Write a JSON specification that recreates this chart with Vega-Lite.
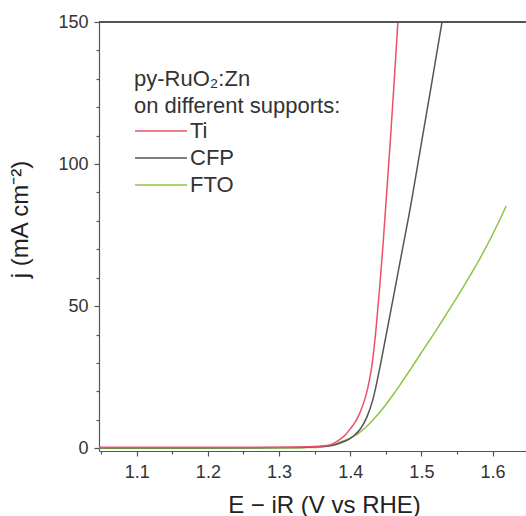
{
  "$schema": "https://vega.github.io/schema/vega-lite/v6.json",
  "width": 427,
  "height": 429,
  "autosize": {"type": "none"},
  "padding": {"left": 99, "top": 22, "right": 0, "bottom": 65},
  "background": "white",
  "config": {
    "view": {"stroke": null},
    "font": "Liberation Sans",
    "axis": {
      "domainColor": "#555555", "tickColor": "#555555", "labelColor": "#333333", "titleColor": "#222222",
      "labelFont": "Liberation Sans", "titleFont": "Liberation Sans", "labelFontSize": 18, "titleFontSize": 24,
      "titleFontWeight": "normal", "grid": false, "domainWidth": 1.2, "tickWidth": 1.2, "labelOverlap": false
    },
    "legend": {
      "titleFont": "Liberation Sans", "labelFont": "Liberation Sans"
    }
  },
  "data": {"values": [
    {"support": "FTO", "E": 1.047, "j": 0}, {"support": "FTO", "E": 1.1, "j": 0}, {"support": "FTO", "E": 1.2, "j": 0},
    {"support": "FTO", "E": 1.3, "j": 0.05}, {"support": "FTO", "E": 1.34, "j": 0.2}, {"support": "FTO", "E": 1.36, "j": 0.45},
    {"support": "FTO", "E": 1.37, "j": 0.9}, {"support": "FTO", "E": 1.38, "j": 1.6}, {"support": "FTO", "E": 1.39, "j": 2.5},
    {"support": "FTO", "E": 1.40, "j": 3.5}, {"support": "FTO", "E": 1.41, "j": 4.9}, {"support": "FTO", "E": 1.42, "j": 6.9},
    {"support": "FTO", "E": 1.43, "j": 9.4}, {"support": "FTO", "E": 1.44, "j": 12.2}, {"support": "FTO", "E": 1.45, "j": 15.3},
    {"support": "FTO", "E": 1.46, "j": 18.7}, {"support": "FTO", "E": 1.47, "j": 22.3}, {"support": "FTO", "E": 1.48, "j": 26.0},
    {"support": "FTO", "E": 1.49, "j": 29.8}, {"support": "FTO", "E": 1.50, "j": 33.6}, {"support": "FTO", "E": 1.51, "j": 37.4},
    {"support": "FTO", "E": 1.52, "j": 41.2}, {"support": "FTO", "E": 1.53, "j": 45.1}, {"support": "FTO", "E": 1.54, "j": 49.1},
    {"support": "FTO", "E": 1.55, "j": 53.1}, {"support": "FTO", "E": 1.56, "j": 57.2}, {"support": "FTO", "E": 1.57, "j": 61.4},
    {"support": "FTO", "E": 1.58, "j": 65.7}, {"support": "FTO", "E": 1.59, "j": 70.3}, {"support": "FTO", "E": 1.60, "j": 75.2},
    {"support": "FTO", "E": 1.61, "j": 80.3}, {"support": "FTO", "E": 1.6192, "j": 85.3},

    {"support": "CFP", "E": 1.047, "j": 0.15}, {"support": "CFP", "E": 1.1, "j": 0.15}, {"support": "CFP", "E": 1.2, "j": 0.15},
    {"support": "CFP", "E": 1.3, "j": 0.2}, {"support": "CFP", "E": 1.34, "j": 0.35}, {"support": "CFP", "E": 1.36, "j": 0.55},
    {"support": "CFP", "E": 1.376, "j": 1.0}, {"support": "CFP", "E": 1.388, "j": 2.0}, {"support": "CFP", "E": 1.3985, "j": 3.2},
    {"support": "CFP", "E": 1.407, "j": 4.8}, {"support": "CFP", "E": 1.415, "j": 7.0}, {"support": "CFP", "E": 1.4235, "j": 11},
    {"support": "CFP", "E": 1.4315, "j": 16.8}, {"support": "CFP", "E": 1.436, "j": 21.5}, {"support": "CFP", "E": 1.4415, "j": 28.2},
    {"support": "CFP", "E": 1.4455, "j": 33.3}, {"support": "CFP", "E": 1.454, "j": 44.4}, {"support": "CFP", "E": 1.4578, "j": 49.4},
    {"support": "CFP", "E": 1.4715, "j": 67.5}, {"support": "CFP", "E": 1.4858, "j": 86.5}, {"support": "CFP", "E": 1.4984, "j": 105},
    {"support": "CFP", "E": 1.5135, "j": 127}, {"support": "CFP", "E": 1.529, "j": 150},

    {"support": "Ti", "E": 1.047, "j": 0.3}, {"support": "Ti", "E": 1.1, "j": 0.3}, {"support": "Ti", "E": 1.2, "j": 0.3},
    {"support": "Ti", "E": 1.3, "j": 0.35}, {"support": "Ti", "E": 1.34, "j": 0.5}, {"support": "Ti", "E": 1.36, "j": 0.75},
    {"support": "Ti", "E": 1.371, "j": 1.1}, {"support": "Ti", "E": 1.385, "j": 3.0}, {"support": "Ti", "E": 1.395, "j": 5.2},
    {"support": "Ti", "E": 1.40, "j": 6.8}, {"support": "Ti", "E": 1.4065, "j": 9}, {"support": "Ti", "E": 1.4125, "j": 11.8},
    {"support": "Ti", "E": 1.4175, "j": 15}, {"support": "Ti", "E": 1.4226, "j": 19}, {"support": "Ti", "E": 1.427, "j": 24},
    {"support": "Ti", "E": 1.431, "j": 30}, {"support": "Ti", "E": 1.437, "j": 44}, {"support": "Ti", "E": 1.4415, "j": 57},
    {"support": "Ti", "E": 1.4459, "j": 71}, {"support": "Ti", "E": 1.451, "j": 89}, {"support": "Ti", "E": 1.4563, "j": 108},
    {"support": "Ti", "E": 1.4615, "j": 128}, {"support": "Ti", "E": 1.467, "j": 150}
  ]},
  "layer": [
    {
      "mark": {"type": "line", "strokeWidth": 1.5, "interpolate": "monotone", "clip": true},
      "encoding": {
        "x": {
          "field": "E", "type": "quantitative",
          "scale": {"domain": [1.047, 1.647], "nice": false, "zero": false},
          "axis": {
            "title": "E − iR (V vs RHE)",
            "values": [1.05, 1.1, 1.15, 1.2, 1.25, 1.3, 1.35, 1.4, 1.45, 1.5, 1.55, 1.6],
            "labelExpr": "round(datum.value*100) % 10 == 0 ? format(datum.value, '.1f') : ''",
            "tickSize": {"condition": {"test": "round(datum.value*100) % 10 == 0", "value": 5}, "value": 3},
            "labelPadding": 7,
            "labelFlush": false,
            "labelOverlap": false,
            "titleX": 225,
            "titleY": 61,
            "titleBaseline": "alphabetic"
          }
        },
        "y": {
          "field": "j", "type": "quantitative",
          "scale": {"domain": [-1, 150], "nice": false, "zero": false},
          "axis": {
            "title": "j (mA cm⁻²)",
            "values": [0, 10, 20, 30, 40, 50, 60, 70, 80, 90, 100, 110, 120, 130, 140, 150],
            "labelExpr": "datum.value % 50 == 0 ? datum.label : ''",
            "tickSize": {"condition": {"test": "datum.value % 50 == 0", "value": 5}, "value": 3},
            "labelPadding": 6,
            "labelOverlap": false,
            "titleX": -72,
            "titleY": 197,
            "titleBaseline": "alphabetic"
          }
        },
        "color": {
          "field": "support", "type": "nominal",
          "scale": {"domain": ["Ti", "CFP", "FTO"], "range": ["#ef4f68", "#555555", "#8cc63f"]},
          "legend": {
            "orient": "none",
            "legendX": 35,
            "legendY": 47,
            "title": ["py-RuO₂:Zn", "on different supports:"],
            "titleFontSize": 22,
            "titleFontWeight": "normal",
            "titleColor": "#333333",
            "titleLineHeight": 27,
            "titlePadding": 2,
            "titleLimit": 400,
            "labelFontSize": 22,
            "labelColor": "#333333",
            "labelOffset": 34,
            "symbolType": "M-1,0H4.2",
            "symbolSize": 400,
            "symbolStrokeWidth": 1.5,
            "rowPadding": 5,
            "padding": 0
          }
        }
      }
    },
    {
      "mark": {"type": "rule", "color": "#555555", "strokeWidth": 1.2},
      "encoding": {
        "y": {
          "datum": 150,
          "axis": {
            "title": "j (mA cm⁻²)",
            "values": [0, 10, 20, 30, 40, 50, 60, 70, 80, 90, 100, 110, 120, 130, 140, 150],
            "labelExpr": "datum.value % 50 == 0 ? datum.label : ''",
            "tickSize": {"condition": {"test": "datum.value % 50 == 0", "value": 5}, "value": 3},
            "labelPadding": 6,
            "labelOverlap": false,
            "titleX": -72,
            "titleY": 197,
            "titleBaseline": "alphabetic"
          }
        }
      }
    }
  ]
}
